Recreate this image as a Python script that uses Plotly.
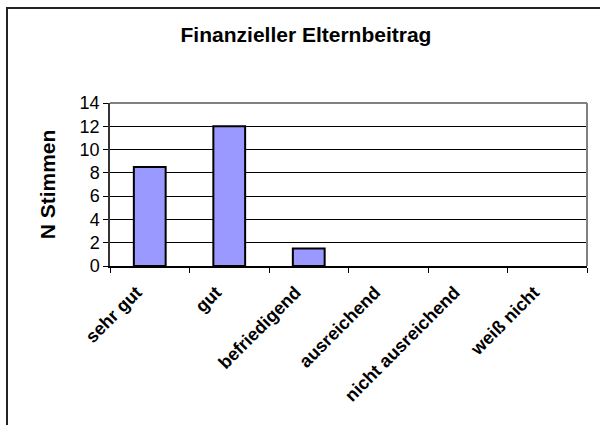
import plotly.graph_objects as go

categories = ["sehr gut", "gut", "befriedigend", "ausreichend", "nicht ausreichend", "weiß nicht"]
values = [8.5, 12, 1.5, 0, 0, 0]
y_ticks = [0, 2, 4, 6, 8, 10, 12, 14]
title_text = "Finanzieller Elternbeitrag"
y_title = "N Stimmen"

FONT = "Arial, Liberation Sans, sans-serif"

fig = go.Figure(go.Bar(
    x=categories, y=values,
    marker=dict(color="#9999FF",
                line=dict(color="black", width=[2 if v > 0 else 0 for v in values])),
    width=0.4,
))

fig.update_layout(
    width=600, height=425,
    margin=dict(l=110, r=13, t=103, b=159),
    paper_bgcolor="white", plot_bgcolor="white",
    showlegend=False,
    font=dict(family=FONT, color="black"),
    title=dict(text="<b>" + title_text + "</b>", x=306/600, xanchor="center",
               y=1 - 35/425, yanchor="middle", yref="container",
               font=dict(size=21, family=FONT, color="black")),
)

fig.update_xaxes(
    type="category", tickson="boundaries", ticks="outside", ticklen=5,
    tickcolor="black", tickwidth=1,
    showline=True, linecolor="black", linewidth=1.5,
    showgrid=False, tickangle=-45,
    tickfont=dict(size=18, family=FONT, color="black"),
    tickprefix="<b>", ticksuffix="</b>",
    ticklabelshift=-13, ticklabelstandoff=7,
)

fig.update_yaxes(
    range=[0, 14], tickvals=y_ticks, ticks="outside", ticklen=5,
    tickcolor="black", tickwidth=1,
    showline=True, linecolor="#333333", linewidth=1.5,
    showgrid=True, gridcolor="black", gridwidth=1, zeroline=False,
    tickfont=dict(size=18, family=FONT, color="black"),
    title=dict(text="<b>" + y_title + "</b>", standoff=18,
               font=dict(size=21, family=FONT, color="black")),
)

# plot area border (top and right, grey)
fig.add_shape(type="line", xref="paper", yref="paper", x0=0, x1=1, y0=1, y1=1,
              line=dict(color="#808080", width=2), layer="above")
fig.add_shape(type="line", xref="paper", yref="paper", x0=1, x1=1, y0=0, y1=1,
              line=dict(color="#808080", width=2), layer="above")
# outer chart border
fig.add_shape(type="rect", xref="paper", yref="paper",
              x0=(7 - 110) / 477, x1=1.3, y0=-1.2, y1=(266 - 8) / 163,
              line=dict(color="#222222", width=2), layer="below")

fig.write_html("out.html", config={"displayModeBar": False},
               post_script="document.body.style.margin='0';")
